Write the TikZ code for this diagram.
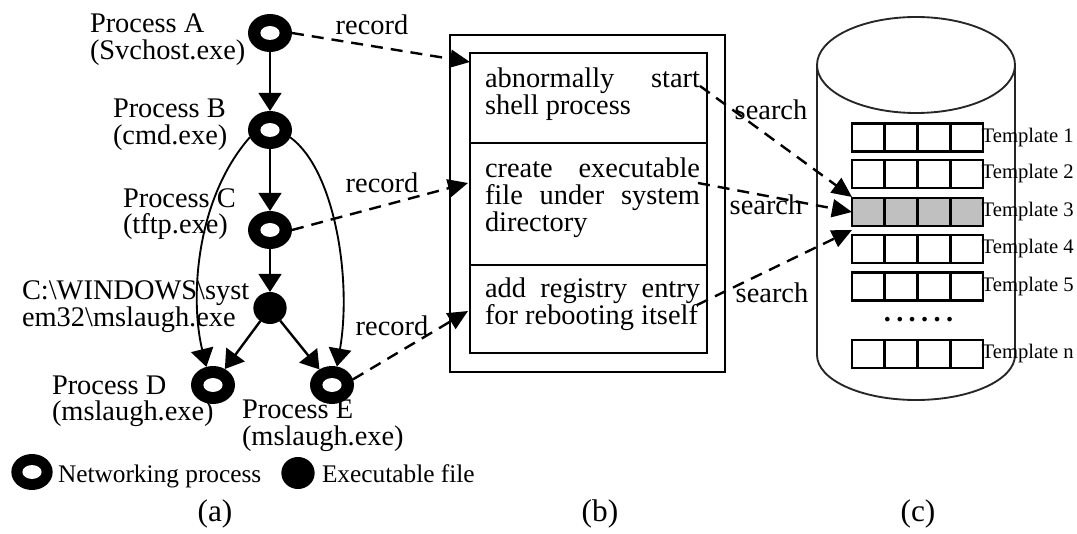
\documentclass[tikz,border=0pt]{standalone}
\usepackage{fontspec}
\setmainfont{Liberation Serif}
\usetikzlibrary{arrows.meta,shapes.geometric}
\definecolor{tgray}{RGB}{192,192,192}
\begin{document}
\begin{tikzpicture}[x=0.75pt,y=-0.75pt,
  every node/.style={inner sep=0pt, outer sep=0pt},
  lbl/.style={anchor=base west, font=\fontsize{21.3}{24}\selectfont},
  lgd/.style={anchor=base west, font=\fontsize{19}{22}\selectfont},
  capt/.style={anchor=base, font=\fontsize{23.5}{26}\selectfont},
  tlbl/.style={anchor=west, font=\fontsize{15.5}{17}\selectfont},
  ring/.style={ellipse, fill=black, minimum width=33pt, minimum height=28.5pt,
    path picture={\fill[white] (path picture bounding box.center) ellipse (7.2pt and 5.2pt);}},
  exe/.style={ellipse, fill=black, minimum width=25pt, minimum height=24pt},
  arr/.style={line width=1.8pt, -{Triangle[length=13.5pt,width=17pt]}},
  carr/.style={line width=1.4pt, -{Triangle[length=13.5pt,width=17pt]}},
  dasharr/.style={line width=1.8pt, dash pattern=on 9pt off 6pt, -{Triangle[length=15pt,width=13.5pt]}},
  boxb/.style={draw, line width=2pt, anchor=north west, minimum width=177.75pt},
  tpl/.style={draw, line width=2pt, minimum width=98.25pt, minimum height=21pt},
]
\useasboundingbox (0,0) rectangle (1077,534);

% ---------------- (a) ----------------
\node[ring] (A) at (270,33) {};
\node[ring] (B) at (270,130) {};
\node[ring] (C) at (270,230) {};
\node[exe]  (X) at (270,308) {};
\node[ring] (D) at (213,385) {};
\node[ring] (E) at (332,385) {};

\draw[arr] (A) -- (B);
\draw[arr] (B) -- (C);
\draw[arr] (C) -- (X);
\draw[arr] (X) -- (D);
\draw[arr] (X) -- (E);
\draw[carr] (B.200) .. controls (195,200) and (190,300) .. (D.110);
\draw[carr] (B.-20) .. controls (335,170) and (352,280) .. (E.75);

\node[lbl] (la1) at (90,33) {Process A};
\node[lbl] (la2) at (90,60) {(Svchost.exe)};
\node[lbl] (lb1) at (113,118) {Process B};
\node[lbl] (lb2) at (113,145) {(cmd.exe)};
\node[lbl] (lc1) at (123,208) {Process C};
\node[lbl] (lc2) at (123,234) {(tftp.exe)};
\node[lbl] (lx1) at (22,300) {C:\textbackslash WINDOWS\textbackslash syst};
\node[lbl] (lx2) at (22,327) {em32\textbackslash mslaugh.exe};
\node[lbl] (ld1) at (52,394) {Process D};
\node[lbl] (ld2) at (52,420) {(mslaugh.exe)};
\node[lbl] (le1) at (242,418) {Process E};
\node[lbl] (le2) at (242,445) {(mslaugh.exe)};

% legend
\node[ring, minimum width=31pt, minimum height=27pt] (L1) at (32,472) {};
\node[lgd] (L1t) at (58,482) {Networking process};
\node[exe] (L2) at (298,473) {};
\node[lgd] (L2t) at (322,482) {Executable file};

% ---------------- (b) ----------------
\node[draw, line width=2pt, anchor=north west, minimum width=206.25pt, minimum height=252.75pt] (outer) at (450,35) {};
\node[boxb, minimum height=67.5pt] (box1) at (470,53) {};
\node[boxb, minimum height=91.5pt] (box2) at (470,143) {};
\node[boxb, minimum height=66pt] (box3) at (470,265) {};

\node[lbl] (t1a) at (485,88) {\makebox[161.25pt][s]{abnormally start}};
\node[lbl] (t1b) at (485,115) {shell process};
\node[lbl] (t2a) at (485,178) {\makebox[161.25pt][s]{create executable}};
\node[lbl] (t2b) at (485,205) {\makebox[161.25pt][s]{file under system}};
\node[lbl] (t2c) at (485,232) {directory};
\node[lbl] (t3a) at (485,298) {\makebox[161.25pt][s]{add registry entry}};
\node[lbl] (t3b) at (485,325) {for rebooting itself};

% record arrows
\coordinate (r1) at (470,62);
\coordinate (r2) at (468,183);
\coordinate (r3) at (468,311);
\draw[dasharr] (A.east) -- (r1);
\draw[dasharr] (C.east) -- (r2);
\draw[dasharr] (E.15) -- (r3);
\node[anchor=base, font=\fontsize{21.3}{24}\selectfont] (rec1) at (372,35) {record};
\node[anchor=base, font=\fontsize{21.3}{24}\selectfont] (rec2) at (382,193) {record};
\node[anchor=base, font=\fontsize{21.3}{24}\selectfont] (rec3) at (392,335) {record};

% ---------------- (c) ----------------
\draw[line width=1.4pt, black!85] (916,65) ellipse (99 and 48);
\draw[line width=1.4pt, black!85] (817,65) -- (817,355) arc[start angle=180, end angle=0, x radius=99, y radius=45] -- (1015,65);

\foreach \n/\y/\f in {1/137.5/white, 2/174/white, 3/212/tgray, 4/249/white, 5/286.5/white, n/354/white}{
  \node[tpl, fill=\f] (t\n) at (917.5,\y) {};
  \foreach \k in {1,2,3}
    \draw[line width=2pt] (852+32.75*\k,\y-14) -- (852+32.75*\k,\y+14);
  \node[tlbl] (tl\n) at ([xshift=-1pt]t\n.east) {Template \n};
}
\node[anchor=base, font=\fontsize{21.3}{24}\selectfont\bfseries] (dots) at (918.5,322) {\hbox to 52pt{.\hfill.\hfill.\hfill.\hfill.\hfill.}};

% search arrows
\coordinate (s1) at (700,86);
\coordinate (s2) at (698,183);
\coordinate (s3) at (697,305);
\draw[dasharr] (s1) -- ([yshift=0.75pt]t3.north west);
\draw[dasharr] (s2) -- (t3.west);
\draw[dasharr] (s3) -- ([yshift=-3pt]t3.south west);
\node[anchor=base, font=\fontsize{21.3}{24}\selectfont] (se1) at (771,120) {search};
\node[anchor=base, font=\fontsize{21.3}{24}\selectfont] (se2) at (766,215) {search};
\node[anchor=base, font=\fontsize{21.3}{24}\selectfont] (se3) at (772,303) {search};

% captions
\node[capt] (ca) at (215,521) {(a)};
\node[capt] (cb) at (600,521) {(b)};
\node[capt] (cc) at (918,521) {(c)};
\end{tikzpicture}
\end{document}
